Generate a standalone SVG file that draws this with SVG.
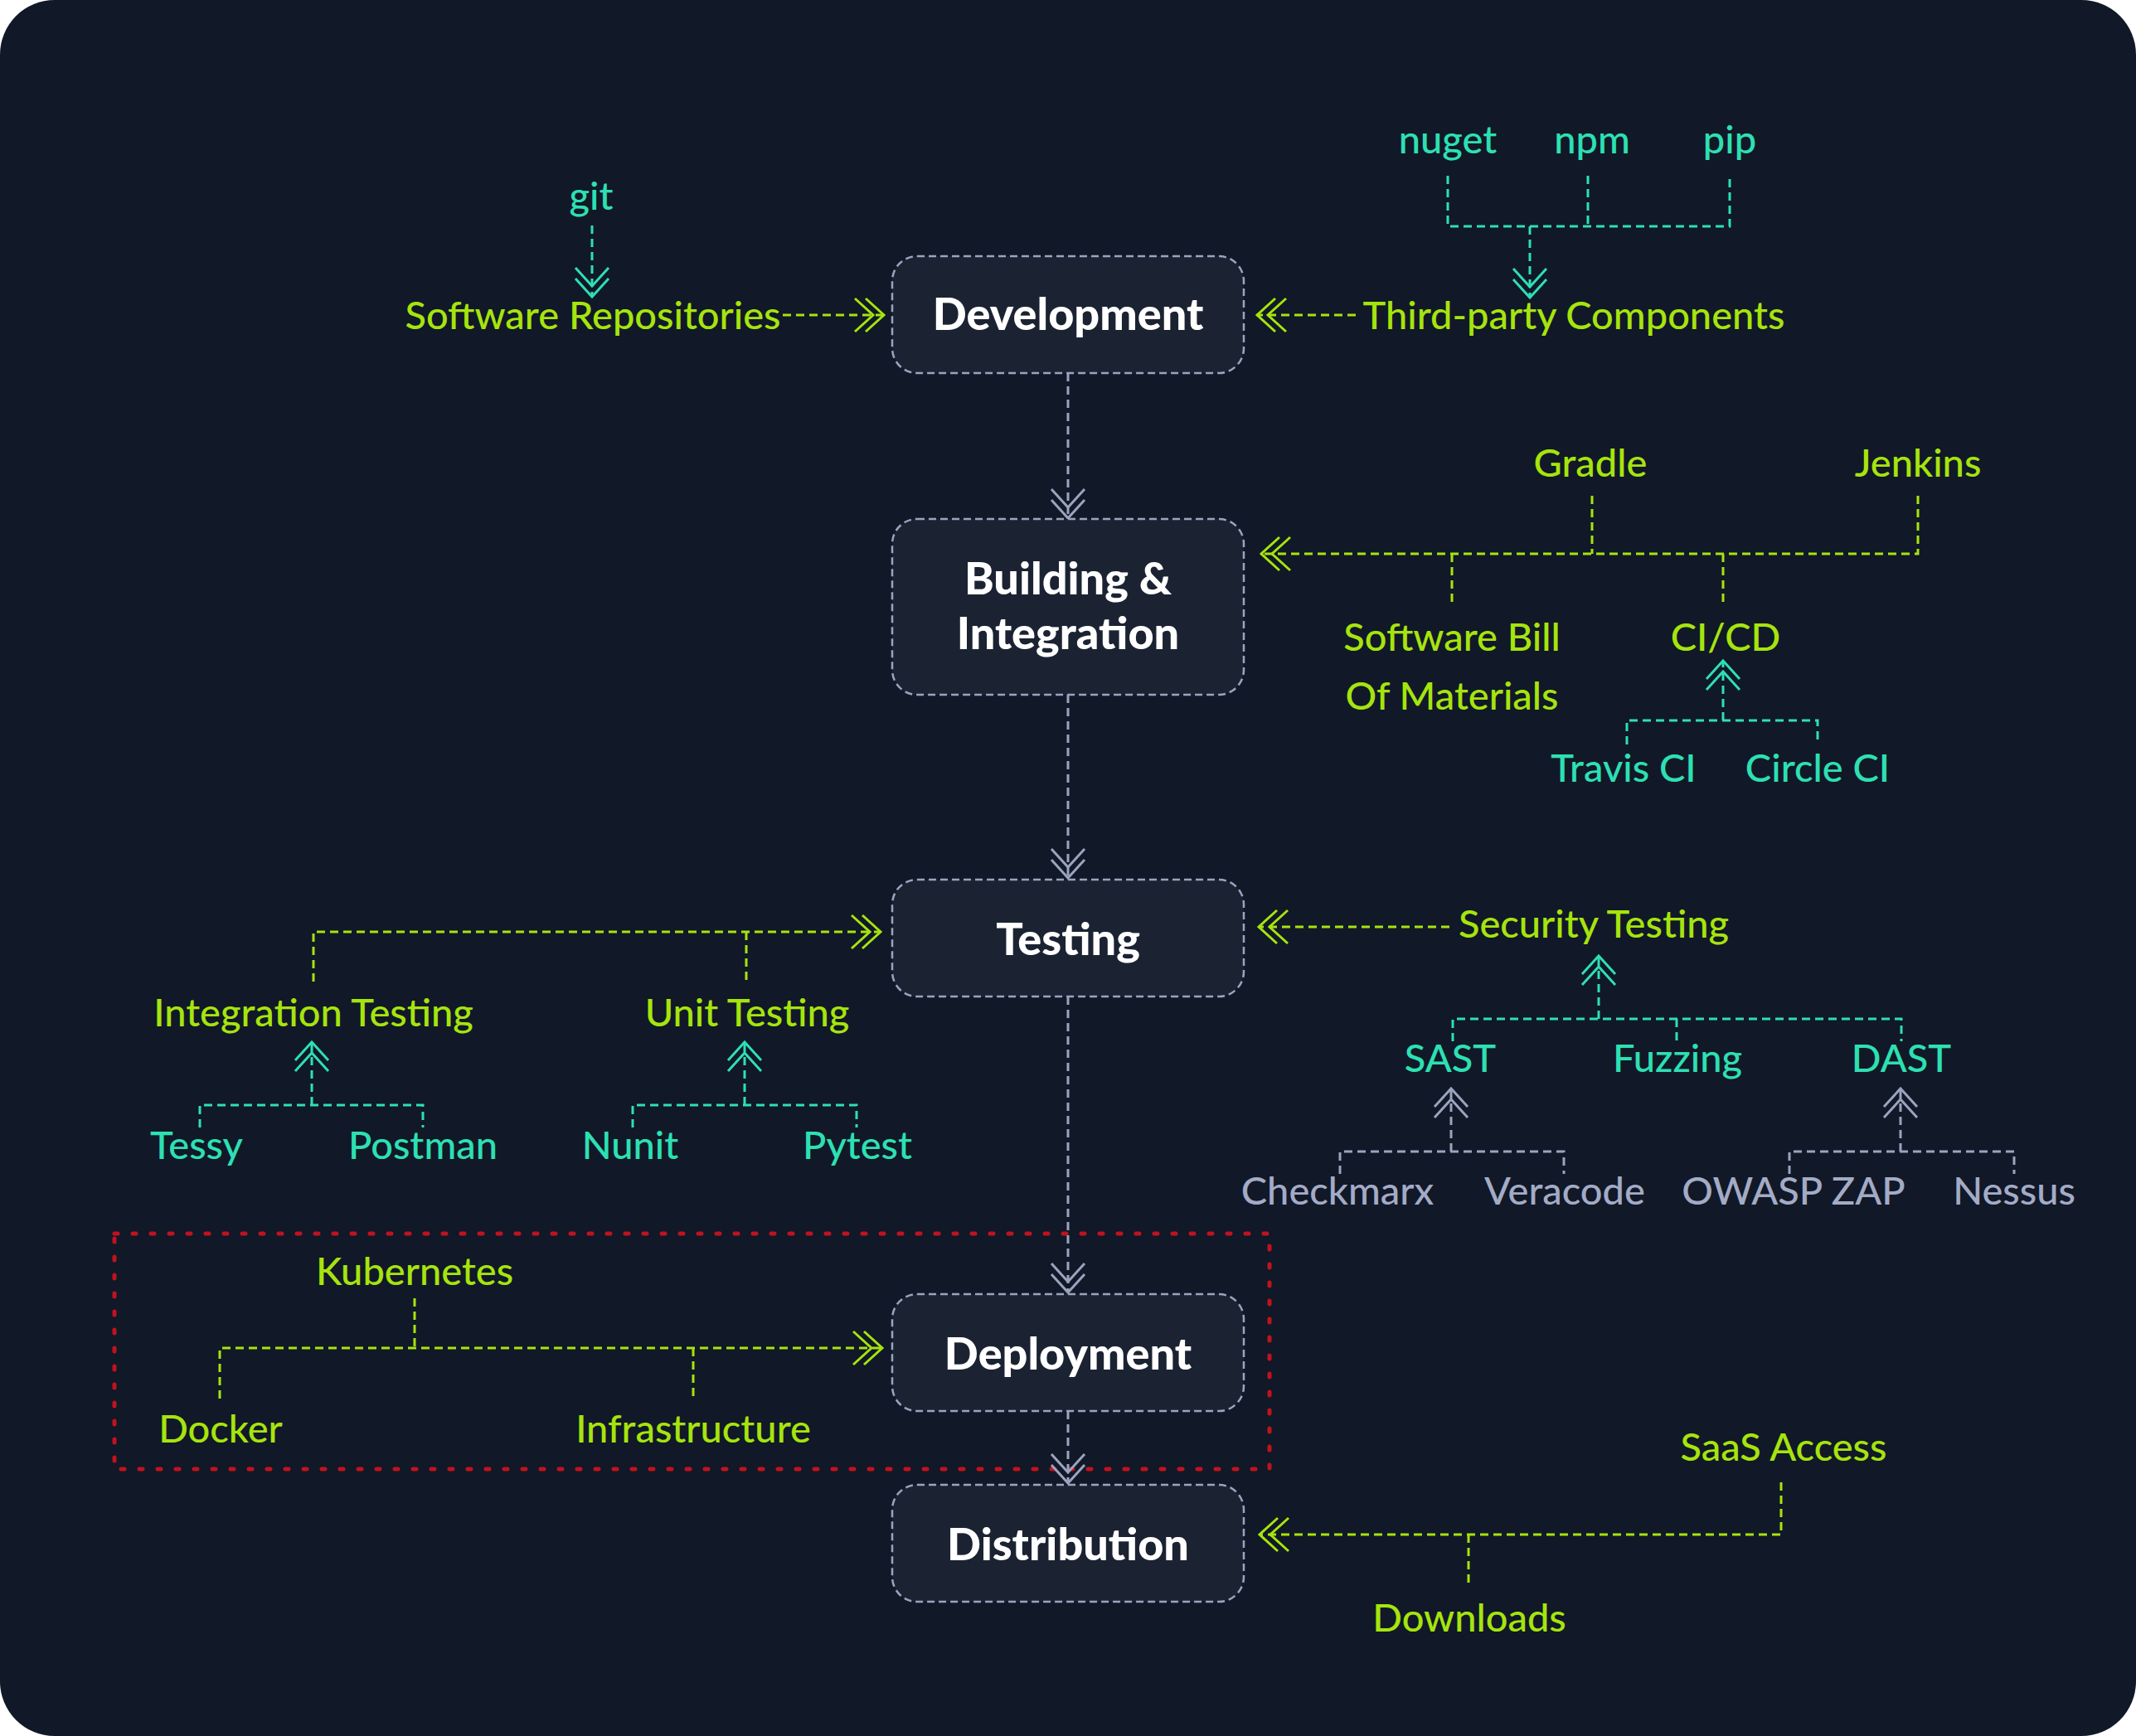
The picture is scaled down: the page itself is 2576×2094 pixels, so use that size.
<svg xmlns="http://www.w3.org/2000/svg" width="2576" height="2094" viewBox="0 0 2576 2094">
<style>
.node rect{fill:#1b2333;stroke:#9aa4bf;stroke-width:2.5;stroke-dasharray:9 5}
.node text{font-family:Lato,"Open Sans",sans-serif;font-weight:900;font-size:54px;fill:#ffffff;text-anchor:middle}
.lbl{font-family:Lato,"Open Sans",sans-serif;font-weight:500;font-size:47px;text-anchor:middle}
.lime{fill:#a6e40e}.teal{fill:#2de0b3}.grey{fill:#a3abc6}
.c{fill:none;stroke-width:3;stroke-dasharray:10 6}
.cl{stroke:#a6e40e}.ct{stroke:#2de0b3}.cg{stroke:#9aa4bf}
</style>
<defs>
<marker id="al" viewBox="-40 -24 44 48" refX="0" refY="0" markerWidth="44" markerHeight="48" markerUnits="userSpaceOnUse" orient="auto"><path d="M-22,-20 L0,0 L-22,20 M-35,-20 L-13,0 L-35,20" fill="none" stroke="#a6e40e" stroke-width="3"/></marker>
<marker id="at" viewBox="-40 -24 44 48" refX="0" refY="0" markerWidth="44" markerHeight="48" markerUnits="userSpaceOnUse" orient="auto"><path d="M-22,-20 L0,0 L-22,20 M-35,-20 L-13,0 L-35,20" fill="none" stroke="#2de0b3" stroke-width="3"/></marker>
<marker id="ag" viewBox="-40 -24 44 48" refX="0" refY="0" markerWidth="44" markerHeight="48" markerUnits="userSpaceOnUse" orient="auto"><path d="M-22,-20 L0,0 L-22,20 M-35,-20 L-13,0 L-35,20" fill="none" stroke="#9aa4bf" stroke-width="3"/></marker>
</defs>
<rect x="0" y="0" width="2576" height="2094" fill="#ffffff"/>
<rect x="0" y="0" width="2576" height="2094" rx="66" fill="#111827"/>
<rect id="deploy-group" x="138" y="1488" width="1393" height="284" fill="none" stroke="#c1121f" stroke-width="5" stroke-dasharray="4 18" stroke-linecap="round"/>
<g id="connectors">
<path class="c cg" d="M1288,450 V625" marker-end="url(#ag)"/>
<path class="c cg" d="M1288,838 V1059" marker-end="url(#ag)"/>
<path class="c cg" d="M1288,1202 V1559" marker-end="url(#ag)"/>
<path class="c cg" d="M1288,1702 V1789" marker-end="url(#ag)"/>
<path class="c cg" d="M1616,1416 V1389 H1886 V1416"/>
<path class="c cg" d="M1750,1389 V1313" marker-end="url(#ag)"/>
<path class="c cg" d="M2158,1416 V1389 H2429 V1416"/>
<path class="c cg" d="M2292,1389 V1313" marker-end="url(#ag)"/>
<path class="c ct" d="M714,272 V358" marker-end="url(#at)"/>
<path class="c ct" d="M1746,212 V273 H2086 V212"/>
<path class="c ct" d="M1915,212 V273"/>
<path class="c ct" d="M1845,273 V359" marker-end="url(#at)"/>
<path class="c ct" d="M1962,898 V869 H2192 V898"/>
<path class="c ct" d="M2078,869 V797" marker-end="url(#at)"/>
<path class="c ct" d="M241,1360 V1333 H510 V1360"/>
<path class="c ct" d="M376,1333 V1257" marker-end="url(#at)"/>
<path class="c ct" d="M763,1360 V1333 H1033 V1360"/>
<path class="c ct" d="M898,1333 V1257" marker-end="url(#at)"/>
<path class="c ct" d="M1752,1256 V1229 H2293 V1256"/>
<path class="c ct" d="M2022,1229 V1256"/>
<path class="c ct" d="M1928,1229 V1153" marker-end="url(#at)"/>
<path class="c cl" d="M944,380 H1066" marker-end="url(#al)"/>
<path class="c cl" d="M1635,380 H1516" marker-end="url(#al)"/>
<path class="c cl" d="M2313,598 V668 H1521" marker-end="url(#al)"/>
<path class="c cl" d="M1920,598 V668"/>
<path class="c cl" d="M1751,668 V732"/>
<path class="c cl" d="M2078,668 V732"/>
<path class="c cl" d="M378,1184 V1124 H1062" marker-end="url(#al)"/>
<path class="c cl" d="M900,1124 V1184"/>
<path class="c cl" d="M1748,1118 H1518" marker-end="url(#al)"/>
<path class="c cl" d="M265,1687 V1626 H1064" marker-end="url(#al)"/>
<path class="c cl" d="M500,1566 V1626"/>
<path class="c cl" d="M836,1626 V1687"/>
<path class="c cl" d="M2148,1788 V1851 H1519" marker-end="url(#al)"/>
<path class="c cl" d="M1771,1851 V1914"/>
</g>
<g id="development" class="node"><rect x="1076" y="309" width="424" height="141" rx="30"/><text x="1288" y="398">Development</text></g>
<g id="building" class="node"><rect x="1076" y="626" width="424" height="212" rx="30"/><text x="1288" y="717">Building &amp;</text><text x="1288" y="783">Integration</text></g>
<g id="testing" class="node"><rect x="1076" y="1061" width="424" height="141" rx="30"/><text x="1288" y="1152">Testing</text></g>
<g id="deployment" class="node"><rect x="1076" y="1561" width="424" height="141" rx="30"/><text x="1288" y="1652">Deployment</text></g>
<g id="distribution" class="node"><rect x="1076" y="1791" width="424" height="141" rx="30"/><text x="1288" y="1882">Distribution</text></g>
<g id="labels">
<text id="git" class="lbl teal" x="713" y="253">git</text>
<text id="software-repositories" class="lbl lime" x="715" y="397">Software Repositories</text>
<text id="third-party" class="lbl lime" x="1898" y="397">Third-party Components</text>
<text id="nuget" class="lbl teal" x="1746" y="185">nuget</text>
<text id="npm" class="lbl teal" x="1920" y="185">npm</text>
<text id="pip" class="lbl teal" x="2086" y="185">pip</text>
<text id="gradle" class="lbl lime" x="1918" y="575">Gradle</text>
<text id="jenkins" class="lbl lime" x="2313" y="575">Jenkins</text>
<text id="sbom" class="lbl lime" x="1751" y="785">Software Bill</text>
<text class="lbl lime" x="1751" y="856">Of Materials</text>
<text id="cicd" class="lbl lime" x="2081" y="785">CI/CD</text>
<text id="travis" class="lbl teal" x="1958" y="943">Travis CI</text>
<text id="circle" class="lbl teal" x="2192" y="943">Circle CI</text>
<text id="integration-testing" class="lbl lime" x="378" y="1238">Integration Testing</text>
<text id="unit-testing" class="lbl lime" x="901" y="1238">Unit Testing</text>
<text id="tessy" class="lbl teal" x="237" y="1398">Tessy</text>
<text id="postman" class="lbl teal" x="510" y="1398">Postman</text>
<text id="nunit" class="lbl teal" x="760" y="1398">Nunit</text>
<text id="pytest" class="lbl teal" x="1034" y="1398">Pytest</text>
<text id="security-testing" class="lbl lime" x="1922" y="1131">Security Testing</text>
<text id="sast" class="lbl teal" x="1749" y="1293">SAST</text>
<text id="fuzzing" class="lbl teal" x="2023" y="1293">Fuzzing</text>
<text id="dast" class="lbl teal" x="2293" y="1293">DAST</text>
<text id="checkmarx" class="lbl grey" x="1613" y="1453">Checkmarx</text>
<text id="veracode" class="lbl grey" x="1887" y="1453">Veracode</text>
<text id="owasp" class="lbl grey" x="2163" y="1453">OWASP ZAP</text>
<text id="nessus" class="lbl grey" x="2429" y="1453">Nessus</text>
<text id="kubernetes" class="lbl lime" x="500" y="1550">Kubernetes</text>
<text id="docker" class="lbl lime" x="266" y="1740">Docker</text>
<text id="infrastructure" class="lbl lime" x="836" y="1740">Infrastructure</text>
<text id="saas" class="lbl lime" x="2151" y="1762">SaaS Access</text>
<text id="downloads" class="lbl lime" x="1772" y="1968">Downloads</text>
</g>
</svg>
